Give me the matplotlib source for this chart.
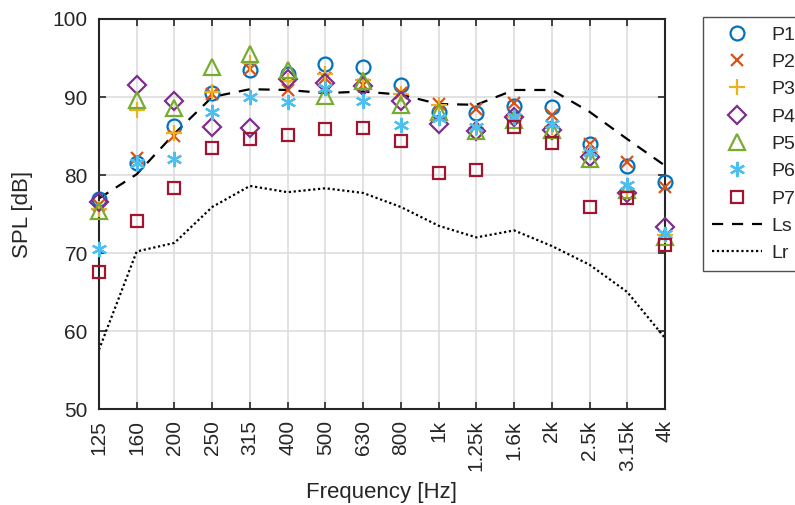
import numpy as np
import matplotlib
matplotlib.use("Agg")
import matplotlib.pyplot as plt

plt.rcParams["font.family"] = ["Liberation Sans", "DejaVu Sans"]

freq_labels = ["125", "160", "200", "250", "315", "400", "500", "630", "800",
               "1k", "1.25k", "1.6k", "2k", "2.5k", "3.15k", "4k"]

p1 = [76.9, 81.5, 86.3, 90.5, 93.4, 92.9, 94.2, 93.8, 91.6, 88.1, 87.9, 88.8, 88.7, 84.0, 81.2, 79.1]
p2 = [76.2, 82.2, 85.0, 90.4, 93.6, 90.9, 92.4, 91.5, 90.5, 89.1, 88.5, 89.2, 87.7, 84.0, 81.7, 78.5]
p3 = [75.6, 88.3, 85.4, 90.6, 94.3, 92.1, 93.0, 92.2, 90.4, 89.0, 86.0, 87.4, 86.2, 83.0, 77.9, 72.3]
p4 = [76.6, 91.5, 89.5, 86.1, 86.0, 92.3, 91.8, 91.4, 89.5, 86.5, 85.6, 87.4, 85.8, 82.3, 77.7, 73.3]
p5 = [75.4, 89.6, 88.6, 93.9, 95.5, 93.4, 90.1, 92.0, 89.0, 88.1, 85.6, 87.1, 85.8, 82.1, 78.1, 72.1]
p6 = [70.5, 81.5, 82.1, 88.1, 90.0, 89.3, 91.1, 89.5, 86.4, 87.3, 86.2, 87.5, 86.6, 83.0, 78.7, 72.5]
p7 = [67.6, 74.1, 78.3, 83.4, 84.6, 85.1, 85.9, 86.0, 84.3, 80.3, 80.6, 86.2, 84.1, 75.9, 77.0, 71.0]
ls = [77.0, 80.1, 85.3, 90.0, 91.0, 90.9, 90.5, 90.7, 90.3, 89.1, 89.0, 90.9, 90.9, 88.1, 84.6, 81.2]
lr = [57.6, 70.2, 71.3, 75.9, 78.6, 77.8, 78.3, 77.7, 75.9, 73.5, 72.0, 72.9, 70.9, 68.5, 65.0, 59.1]

series = [
    ("P1", p1, "o", "#0072BD", 10),
    ("P2", p2, "x", "#D95319", 9),
    ("P3", p3, "+", "#EDB120", 12),
    ("P4", p4, "D", "#7E2F8E", 9),
    ("P5", p5, "^", "#77AC30", 11),
    ("P6", p6, (6, 2, 0), "#4DBEEE", 11),
    ("P7", p7, "s", "#A2142F", 9),
]

TXT = "#262626"
fig = plt.figure(figsize=(7.95, 5.05), dpi=100)
ax = fig.add_axes([0.1245, 0.190, 0.712, 0.7724])
x = np.arange(len(freq_labels))

for name, vals, mk, col, ms in series:
    ax.plot(x, vals, linestyle="none", marker=mk, ms=ms, mew=1.6,
            mfc="none", mec=col, color=col, label=name, zorder=3, clip_on=False)

ax.plot(x, ls, "--", color="black", lw=1.6, dashes=(5, 4), label="Ls", zorder=2)
ax.plot(x, lr, ":", color="black", lw=1.6, dashes=(1, 1.2), label="Lr", zorder=2)

ax.set_xlim(0, len(freq_labels) - 1)
ax.set_ylim(50, 100)
ax.set_xticks(x)
ax.set_xticklabels(freq_labels, rotation=90, fontsize=15, color=TXT)
ax.set_yticks(np.arange(50, 101, 10))
ax.tick_params(axis="y", labelsize=15, labelcolor=TXT, pad=8)
ax.tick_params(axis="x", pad=8)
ax.tick_params(direction="in", top=True, right=True, length=5, width=1.2, color=TXT)
ax.grid(True, color="#dddddd", lw=1.2)
ax.set_axisbelow(True)
for sp in ax.spines.values():
    sp.set_linewidth(1.5)
    sp.set_color(TXT)
ax.set_xlabel("Frequency [Hz]", fontsize=16, color=TXT, labelpad=8)
ax.set_ylabel("SPL [dB]", fontsize=16, color=TXT, labelpad=14)

leg = fig.legend(loc="upper left", bbox_to_anchor=(0.884, 0.966), fontsize=14,
                 frameon=True, fancybox=False, edgecolor=TXT,
                 handlelength=2.6, handletextpad=0.5, borderpad=0.45,
                 labelspacing=0.5, borderaxespad=0)
leg.get_frame().set_linewidth(1.0)
for t in leg.get_texts():
    t.set_color(TXT)

fig.savefig("out.png", dpi=100)
